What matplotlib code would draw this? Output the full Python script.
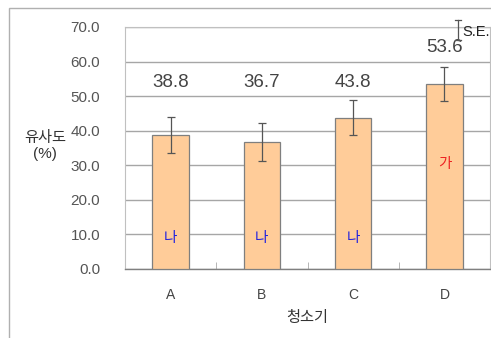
import matplotlib.pyplot as plt
import matplotlib.patches as patches
import numpy as np

plt.rcParams['font.family'] = ['Liberation Sans', 'Noto Sans CJK KR', 'DejaVu Sans']

# 데이터
categories = ['A', 'B', 'C', 'D']
values = [38.8, 36.7, 43.8, 53.6]
errors = [5.3, 5.6, 5.0, 4.9]
groups = ['나', '나', '나', '가']
group_colors = ['#2222dd', '#2222dd', '#2222dd', '#ee2222']
label_heights = [53.9, 53.9, 53.9, 64.0]
group_heights = [9.0, 9.0, 9.0, 30.4]
yticks = np.arange(0, 71, 10)

fig = plt.figure(figsize=(4.91, 3.38), dpi=100)
ax = fig.add_axes([125 / 491, 1 - 269 / 338, 365 / 491, 242 / 338])

# 바깥 테두리
frame = patches.Rectangle((9 / 491, -0.1), 1.2, 1 - 8 / 338 + 0.1, transform=fig.transFigure,
                          fill=False, edgecolor='#b0b0b0', lw=1.0, zorder=0)
fig.patches.append(frame)

x = np.arange(len(categories))
ax.bar(x, values, width=0.4, color='#ffcc99', edgecolor='#7f7f7f', lw=0.9, zorder=3)
ax.errorbar(x, values, yerr=errors, fmt='none', ecolor='#555555', elinewidth=0.9,
            capsize=3, capthick=0.9, zorder=4)

for i in range(len(categories)):
    ax.text(x[i], label_heights[i], f'{values[i]:.1f}', ha='center', va='center',
            fontsize=13.5, color='#444444')
    ax.text(x[i], group_heights[i], groups[i], ha='center', va='center',
            fontsize=10.5, color=group_colors[i], zorder=5)

ax.set_xlim(-0.5, 3.5)
ax.set_ylim(0, 70)
ax.set_yticks(yticks)
ax.set_yticklabels([f'{v:.1f}' for v in yticks], fontsize=11, color='#555555')
ax.set_xticks(x)
ax.set_xticklabels(categories, fontsize=10, color='#444444')
ax.set_xticks([0.5, 1.5, 2.5], minor=True)
ax.tick_params(axis='x', which='major', length=0, pad=14)
ax.tick_params(axis='x', which='minor', length=5, direction='in', color='#aaaaaa')
ax.tick_params(axis='y', length=0, pad=18)
ax.grid(axis='y', color='#a6a6a6', lw=1.0, zorder=0)
ax.set_axisbelow(True)

for side in ['left', 'right', 'top']:
    ax.spines[side].set_color('#c0c0c0')
    ax.spines[side].set_linewidth(0.8)
ax.spines['bottom'].set_color('#808080')
ax.spines['bottom'].set_linewidth(1.0)

ax.set_xlabel('청소기', fontsize=11, color='#333333', labelpad=6)
fig.text(45 / 491, 1 - 146 / 338, '유사도\n(%)', ha='center', va='center',
         fontsize=11, color='#333333', linespacing=1.2)

# S.E. 범례
fig.add_artist(plt.Line2D([458 / 491, 458 / 491], [1 - 20 / 338, 1 - 40 / 338],
                          color='#555555', lw=0.9))
fig.add_artist(plt.Line2D([455 / 491, 461 / 491], [1 - 20 / 338, 1 - 20 / 338],
                          color='#555555', lw=0.9))
fig.add_artist(plt.Line2D([455 / 491, 461 / 491], [1 - 40 / 338, 1 - 40 / 338],
                          color='#555555', lw=0.9))
fig.text(462 / 491, 1 - 32 / 338, 'S.E.', ha='left', va='center', fontsize=10.5,
         color='#222222')

fig.savefig('out.png', dpi=100)
